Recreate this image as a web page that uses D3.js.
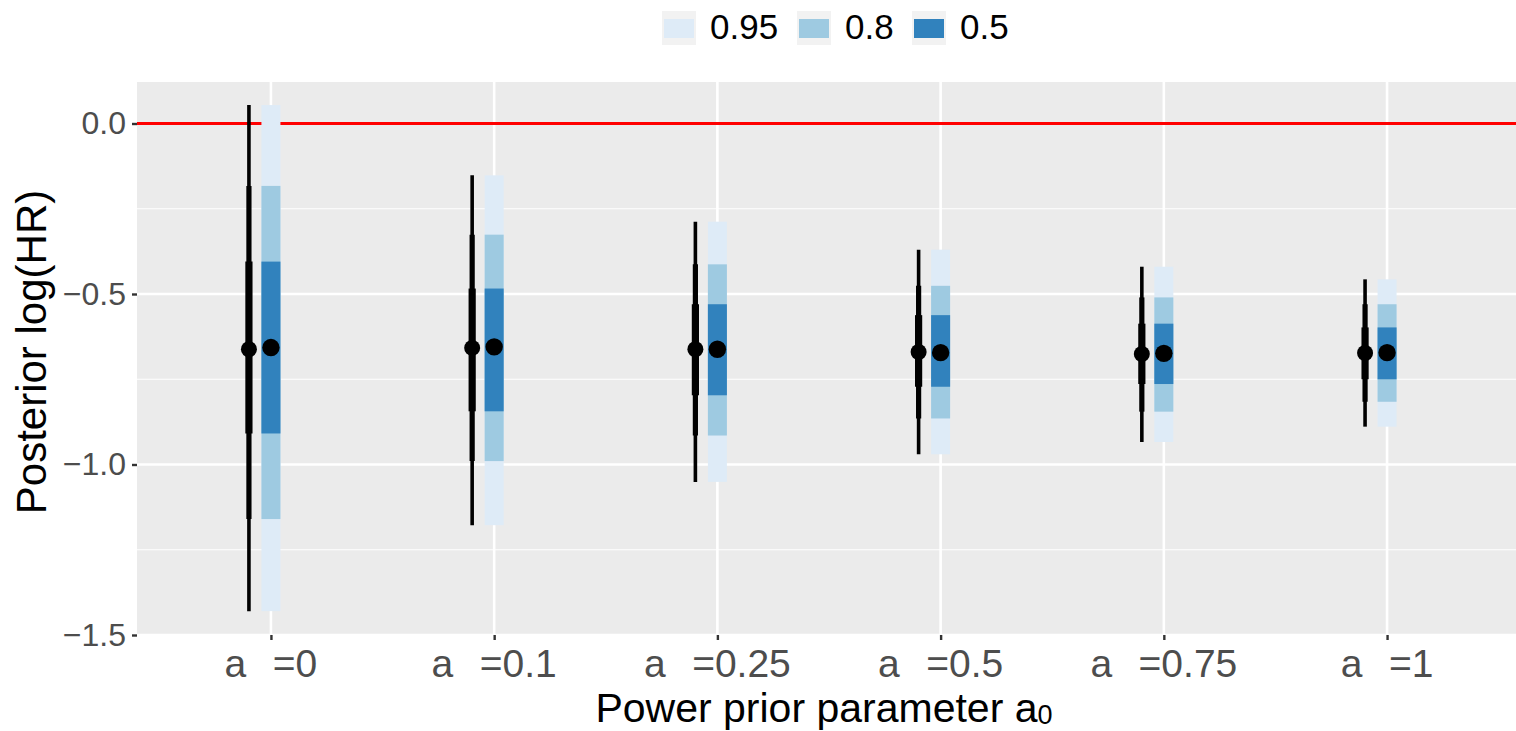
<!DOCTYPE html>
<html>
<head>
<meta charset="utf-8">
<script src="https://cdn.jsdelivr.net/npm/d3@7"></script>
<style>
  html, body { margin: 0; padding: 0; background: #ffffff; overflow: hidden; }
  svg { display: block; font-family: "Liberation Sans", Arial, sans-serif; }
</style>
</head>
<body>
<svg id="chart" width="1516" height="731"></svg>
<script>
// ---- data ----
const categories = ["0", "0.1", "0.25", "0.5", "0.75", "1"];
const lo95 = [-1.430, -1.178, -1.051, -0.970, -0.934, -0.889];
const hi95 = [0.054, -0.152, -0.288, -0.370, -0.420, -0.457];
const lo80 = [-1.160, -0.990, -0.915, -0.865, -0.845, -0.816];
const hi80 = [-0.183, -0.326, -0.413, -0.476, -0.510, -0.530];
const lo50 = [-0.909, -0.844, -0.797, -0.772, -0.764, -0.750];
const hi50 = [-0.405, -0.484, -0.530, -0.562, -0.587, -0.598];
const pointBlue = [-0.657, -0.655, -0.662, -0.672, -0.674, -0.672];
const pointBlack = [-0.662, -0.658, -0.662, -0.670, -0.676, -0.673];
const yTicks = [0, -0.5, -1.0, -1.5];
const yMinor = [-0.25, -0.75, -1.25];
const levels = ["0.95", "0.8", "0.5"];
const levelColors = ["#deebf7", "#9ecae1", "#3182bd"];
const refLine = 0;

// ---- layout ----
const svg = d3.select("#chart");
const panel = { left: 137, right: 1521, top: 82, bottom: 635 };

const x = d3.scalePoint().domain(categories).range([panel.left, panel.right]).padding(0.6);
const y = d3.scaleLinear().domain([-1.5, 0.1217]).range([panel.bottom, panel.top]);

// panel background
svg.append("rect")
  .attr("x", panel.left).attr("y", panel.top)
  .attr("width", panel.right - panel.left).attr("height", panel.bottom - panel.top)
  .attr("fill", "#ebebeb");

// minor grid
svg.append("g").selectAll("line").data(yMinor).join("line")
  .attr("x1", panel.left).attr("x2", panel.right)
  .attr("y1", d => y(d)).attr("y2", d => y(d))
  .attr("stroke", "#ffffff").attr("stroke-width", 1.2);
// major grid
svg.append("g").selectAll("line").data(yTicks).join("line")
  .attr("x1", panel.left).attr("x2", panel.right)
  .attr("y1", d => y(d)).attr("y2", d => y(d))
  .attr("stroke", "#ffffff").attr("stroke-width", 2.4);
svg.append("g").selectAll("line").data(categories).join("line")
  .attr("x1", d => x(d)).attr("x2", d => x(d))
  .attr("y1", panel.top).attr("y2", panel.bottom)
  .attr("stroke", "#ffffff").attr("stroke-width", 2.6);

// reference line
svg.append("line")
  .attr("x1", panel.left).attr("x2", panel.right)
  .attr("y1", y(refLine)).attr("y2", y(refLine))
  .attr("stroke", "#ff0000").attr("stroke-width", 3);

const idx = d3.range(categories.length);
const blackOffset = -22;
const boxW = 19;

// blue interval bars
const bands = [
  { lo: lo95, hi: hi95, color: levelColors[0] },
  { lo: lo80, hi: hi80, color: levelColors[1] },
  { lo: lo50, hi: hi50, color: levelColors[2] }
];
bands.forEach(b => {
  svg.append("g").selectAll("rect").data(idx).join("rect")
    .attr("x", i => x(categories[i]) - boxW / 2)
    .attr("width", boxW)
    .attr("y", i => y(b.hi[i]))
    .attr("height", i => y(b.lo[i]) - y(b.hi[i]))
    .attr("fill", b.color);
});
svg.append("g").selectAll("circle").data(idx).join("circle")
  .attr("cx", i => x(categories[i]))
  .attr("cy", i => y(pointBlue[i]))
  .attr("r", 8.7)
  .attr("fill", "#000000");

// black point ranges
const widths = [3.6, 5.2, 7.2];
bands.forEach((b, k) => {
  svg.append("g").selectAll("line").data(idx).join("line")
    .attr("x1", i => x(categories[i]) + blackOffset)
    .attr("x2", i => x(categories[i]) + blackOffset)
    .attr("y1", i => y(b.hi[i]))
    .attr("y2", i => y(b.lo[i]))
    .attr("stroke", "#000000")
    .attr("stroke-width", widths[k]);
});
svg.append("g").selectAll("circle").data(idx).join("circle")
  .attr("cx", i => x(categories[i]) + blackOffset)
  .attr("cy", i => y(pointBlack[i]))
  .attr("r", 8)
  .attr("fill", "#000000");

// y axis
const yAxis = svg.append("g")
  .attr("transform", `translate(${panel.left},0)`)
  .call(d3.axisLeft(y).tickValues(yTicks).tickFormat(d3.format(".1f")).tickSize(5).tickPadding(6));
yAxis.select(".domain").remove();
yAxis.selectAll(".tick line").attr("stroke", "#333333").attr("stroke-width", 2.4);
yAxis.selectAll(".tick text")
  .attr("fill", "#4d4d4d")
  .style("font-size", "32px")
  .style("font-family", "'Liberation Sans', Arial, sans-serif");

// x axis
const xAxis = svg.append("g")
  .attr("transform", `translate(0,${panel.bottom})`)
  .call(d3.axisBottom(x).tickFormat("").tickSize(5));
xAxis.select(".domain").remove();
xAxis.selectAll(".tick line").attr("stroke", "#333333").attr("stroke-width", 2.4);

const xl = svg.append("g").selectAll("text").data(categories).join("text")
  .attr("x", d => x(d))
  .attr("y", 677)
  .attr("text-anchor", "middle")
  .attr("fill", "#4d4d4d")
  .style("font-size", "39px");
xl.append("tspan").text("a");
xl.append("tspan").attr("dx", 5).attr("dy", 2).style("font-size", "26px").attr("fill", "#ffffff").text("0");
xl.append("tspan").attr("dx", 7).attr("dy", -2).text(d => "=" + d);

// axis titles
const xt = svg.append("text")
  .attr("x", 824).attr("y", 722)
  .attr("text-anchor", "middle")
  .attr("fill", "#000000")
  .style("font-size", "41px");
xt.append("tspan").text("Power prior parameter a");
xt.append("tspan").attr("dy", 2).style("font-size", "27px").text("0");

svg.append("text")
  .attr("transform", "translate(46,352) rotate(-90)")
  .attr("text-anchor", "middle")
  .attr("fill", "#000000")
  .style("font-size", "42px")
  .text("Posterior log(HR)");

// legend
const legendKeysX = [662, 797, 912];
const leg = svg.append("g");
levels.forEach((lab, i) => {
  const g = leg.append("g").attr("transform", `translate(${legendKeysX[i]},11)`);
  g.append("rect").attr("width", 34).attr("height", 34).attr("fill", "#f2f2f2");
  g.append("rect").attr("x", 2).attr("y", 8).attr("width", 30).attr("height", 19).attr("fill", levelColors[i]);
  g.append("text").attr("x", 48).attr("y", 28).attr("fill", "#000000")
    .style("font-size", "35px").text(lab);
});
</script>
</body>
</html>
